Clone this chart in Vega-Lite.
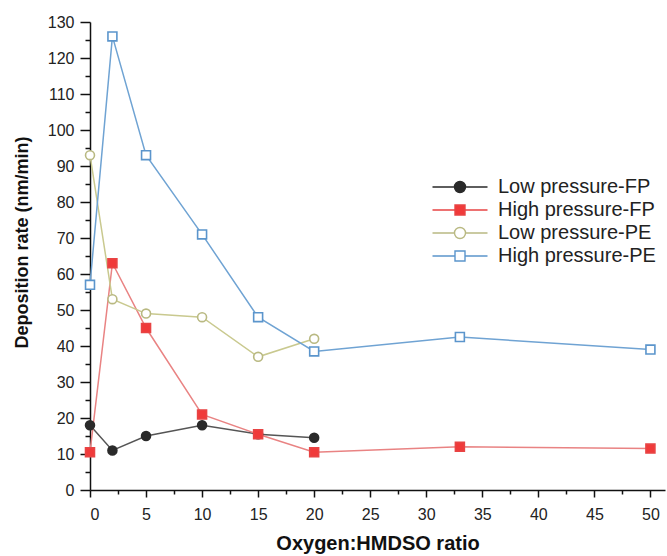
{
  "$schema": "https://vega.github.io/schema/vega-lite/v6.json",
  "autosize": {"type": "none"},
  "padding": {"left": 90, "top": 22, "right": 2, "bottom": 66},
  "width": 575,
  "height": 468,
  "background": "white",
  "config": {
    "view": {"stroke": null},
    "font": "Liberation Sans",
    "axis": {"grid": false, "domainColor": "#111", "tickColor": "#111", "domainWidth": 1.5, "tickWidth": 1.5, "labelColor": "#222", "titleColor": "#111", "labelFont": "Liberation Sans", "titleFont": "Liberation Sans"},
    "legend": {"symbolOpacity": 1}
  },
  "data": {
    "values": [
      {"ratio": 0, "rate": 18, "series": "Low pressure-FP"},
      {"ratio": 2, "rate": 11, "series": "Low pressure-FP"},
      {"ratio": 5, "rate": 15, "series": "Low pressure-FP"},
      {"ratio": 10, "rate": 18, "series": "Low pressure-FP"},
      {"ratio": 15, "rate": 15.5, "series": "Low pressure-FP"},
      {"ratio": 20, "rate": 14.5, "series": "Low pressure-FP"},
      {"ratio": 0, "rate": 10.5, "series": "High pressure-FP"},
      {"ratio": 2, "rate": 63, "series": "High pressure-FP"},
      {"ratio": 5, "rate": 45, "series": "High pressure-FP"},
      {"ratio": 10, "rate": 21, "series": "High pressure-FP"},
      {"ratio": 15, "rate": 15.5, "series": "High pressure-FP"},
      {"ratio": 20, "rate": 10.5, "series": "High pressure-FP"},
      {"ratio": 33, "rate": 12, "series": "High pressure-FP"},
      {"ratio": 50, "rate": 11.5, "series": "High pressure-FP"},
      {"ratio": 0, "rate": 93, "series": "Low pressure-PE"},
      {"ratio": 2, "rate": 53, "series": "Low pressure-PE"},
      {"ratio": 5, "rate": 49, "series": "Low pressure-PE"},
      {"ratio": 10, "rate": 48, "series": "Low pressure-PE"},
      {"ratio": 15, "rate": 37, "series": "Low pressure-PE"},
      {"ratio": 20, "rate": 42, "series": "Low pressure-PE"},
      {"ratio": 0, "rate": 57, "series": "High pressure-PE"},
      {"ratio": 2, "rate": 126, "series": "High pressure-PE"},
      {"ratio": 5, "rate": 93, "series": "High pressure-PE"},
      {"ratio": 10, "rate": 71, "series": "High pressure-PE"},
      {"ratio": 15, "rate": 48, "series": "High pressure-PE"},
      {"ratio": 20, "rate": 38.5, "series": "High pressure-PE"},
      {"ratio": 33, "rate": 42.5, "series": "High pressure-PE"},
      {"ratio": 50, "rate": 39, "series": "High pressure-PE"}
    ]
  },
  "resolve": {"axis": {"x": "independent", "y": "independent"}},
  "layer": [
    {
      "mark": {"type": "line", "strokeWidth": 1.5},
      "encoding": {
        "x": {"field": "ratio", "type": "quantitative", "scale": {"domain": [0, 51.3], "nice": false, "zero": false},
          "axis": {"values": [0,5,10,15,20,25,30,35,40,45,50], "tickSize": 7, "labelFontSize": 16, "labelPadding": 9, "title": "Oxygen:HMDSO ratio", "titleFontSize": 20, "titleFontWeight": "bold", "titlePadding": 11}},
        "y": {"field": "rate", "type": "quantitative", "scale": {"domain": [0, 130], "nice": false},
          "axis": {"values": [0,10,20,30,40,50,60,70,80,90,100,110,120,130], "tickSize": 10, "labelFontSize": 16, "labelPadding": 6, "title": "Deposition rate (nm/min)", "titleFontSize": 18, "titleFontWeight": "bold", "titlePadding": 16, "titleY": 220}},
        "color": {"field": "series", "type": "nominal", "legend": null,
          "scale": {"domain": ["High pressure-PE", "Low pressure-PE", "High pressure-FP", "Low pressure-FP"], "range": ["#6fa3d3", "#c9c98f", "#e98383", "#555555"]}},
        "order": {"field": "ratio", "type": "quantitative"}
      }
    },
    {
      "transform": [{"filter": "datum.series === 'Low pressure-FP'"}],
      "mark": {"type": "point", "shape": "circle", "filled": true, "fill": "#2a2a2a", "stroke": "#2a2a2a", "strokeWidth": 1.6, "size": 80, "opacity": 1},
      "encoding": {"x": {"field": "ratio", "type": "quantitative", "axis": null}, "y": {"field": "rate", "type": "quantitative", "axis": null}}
    },
    {
      "transform": [{"filter": "datum.series === 'High pressure-FP'"}],
      "mark": {"type": "point", "shape": "square", "filled": true, "fill": "#f03a3a", "stroke": "#e84444", "strokeWidth": 1.6, "size": 80, "opacity": 1},
      "encoding": {"x": {"field": "ratio", "type": "quantitative", "axis": null}, "y": {"field": "rate", "type": "quantitative", "axis": null}}
    },
    {
      "transform": [{"filter": "datum.series === 'Low pressure-PE'"}],
      "mark": {"type": "point", "shape": "circle", "filled": true, "fill": "#ffffff", "stroke": "#b9b982", "strokeWidth": 1.6, "size": 80, "opacity": 1},
      "encoding": {"x": {"field": "ratio", "type": "quantitative", "axis": null}, "y": {"field": "rate", "type": "quantitative", "axis": null}}
    },
    {
      "transform": [{"filter": "datum.series === 'High pressure-PE'"}],
      "mark": {"type": "point", "shape": "square", "filled": true, "fill": "#ffffff", "stroke": "#5b95cc", "strokeWidth": 1.6, "size": 80, "opacity": 1},
      "encoding": {"x": {"field": "ratio", "type": "quantitative", "axis": null}, "y": {"field": "rate", "type": "quantitative", "axis": null}}
    },
    {
      "mark": {"type": "point", "filled": false, "strokeWidth": 1.4, "size": 100, "opacity": 0},
      "encoding": {
        "x": {"field": "ratio", "type": "quantitative",
          "axis": {"values": [2.5,7.5,12.5,17.5,22.5,27.5,32.5,37.5,42.5,47.5], "tickSize": 4, "labels": false, "domain": false, "title": null, "orient": "bottom"}},
        "y": {"field": "rate", "type": "quantitative",
          "axis": {"values": [5,15,25,35,45,55,65,75,85,95,105,115,125], "tickSize": 5, "labels": false, "domain": false, "title": null, "orient": "left"}},
        "shape": {"field": "series", "type": "nominal",
          "scale": {"domain": ["Low pressure-FP", "High pressure-FP", "Low pressure-PE", "High pressure-PE"],
            "range": ["M-5.5,0H-1.1M1.1,0H5.5M-1.1,0A1.1,1.1,0,1,1,1.1,0A1.1,1.1,0,1,1,-1.1,0Z", "M-5.5,0H-1M1,0H5.5M-1,-1H1V1H-1Z", "M-5.5,0H-1.1M1.1,0H5.5M-1.1,0A1.1,1.1,0,1,1,1.1,0A1.1,1.1,0,1,1,-1.1,0Z", "M-5.5,0H-1M1,0H5.5M-1,-1H1V1H-1Z"]}},
        "fill": {"field": "series", "type": "nominal",
          "scale": {"domain": ["Low pressure-FP", "High pressure-FP", "Low pressure-PE", "High pressure-PE"], "range": ["#2a2a2a", "#f03a3a", "#ffffff", "#ffffff"]}},
        "stroke": {"field": "series", "type": "nominal",
          "scale": {"domain": ["Low pressure-FP", "High pressure-FP", "Low pressure-PE", "High pressure-PE"], "range": ["#2a2a2a", "#e84444", "#b9b982", "#5b95cc"]},
          "legend": {
            "title": null, "orient": "none", "legendX": 360, "legendY": 155, "padding": 0,
            "labelFontSize": 20, "labelFont": "Liberation Sans", "labelColor": "#222", "labelOffset": 28, "rowPadding": 3,
            "symbolSize": 100, "symbolStrokeWidth": 1.4, "symbolOpacity": 1
          }}
      }
    }
  ]
}
